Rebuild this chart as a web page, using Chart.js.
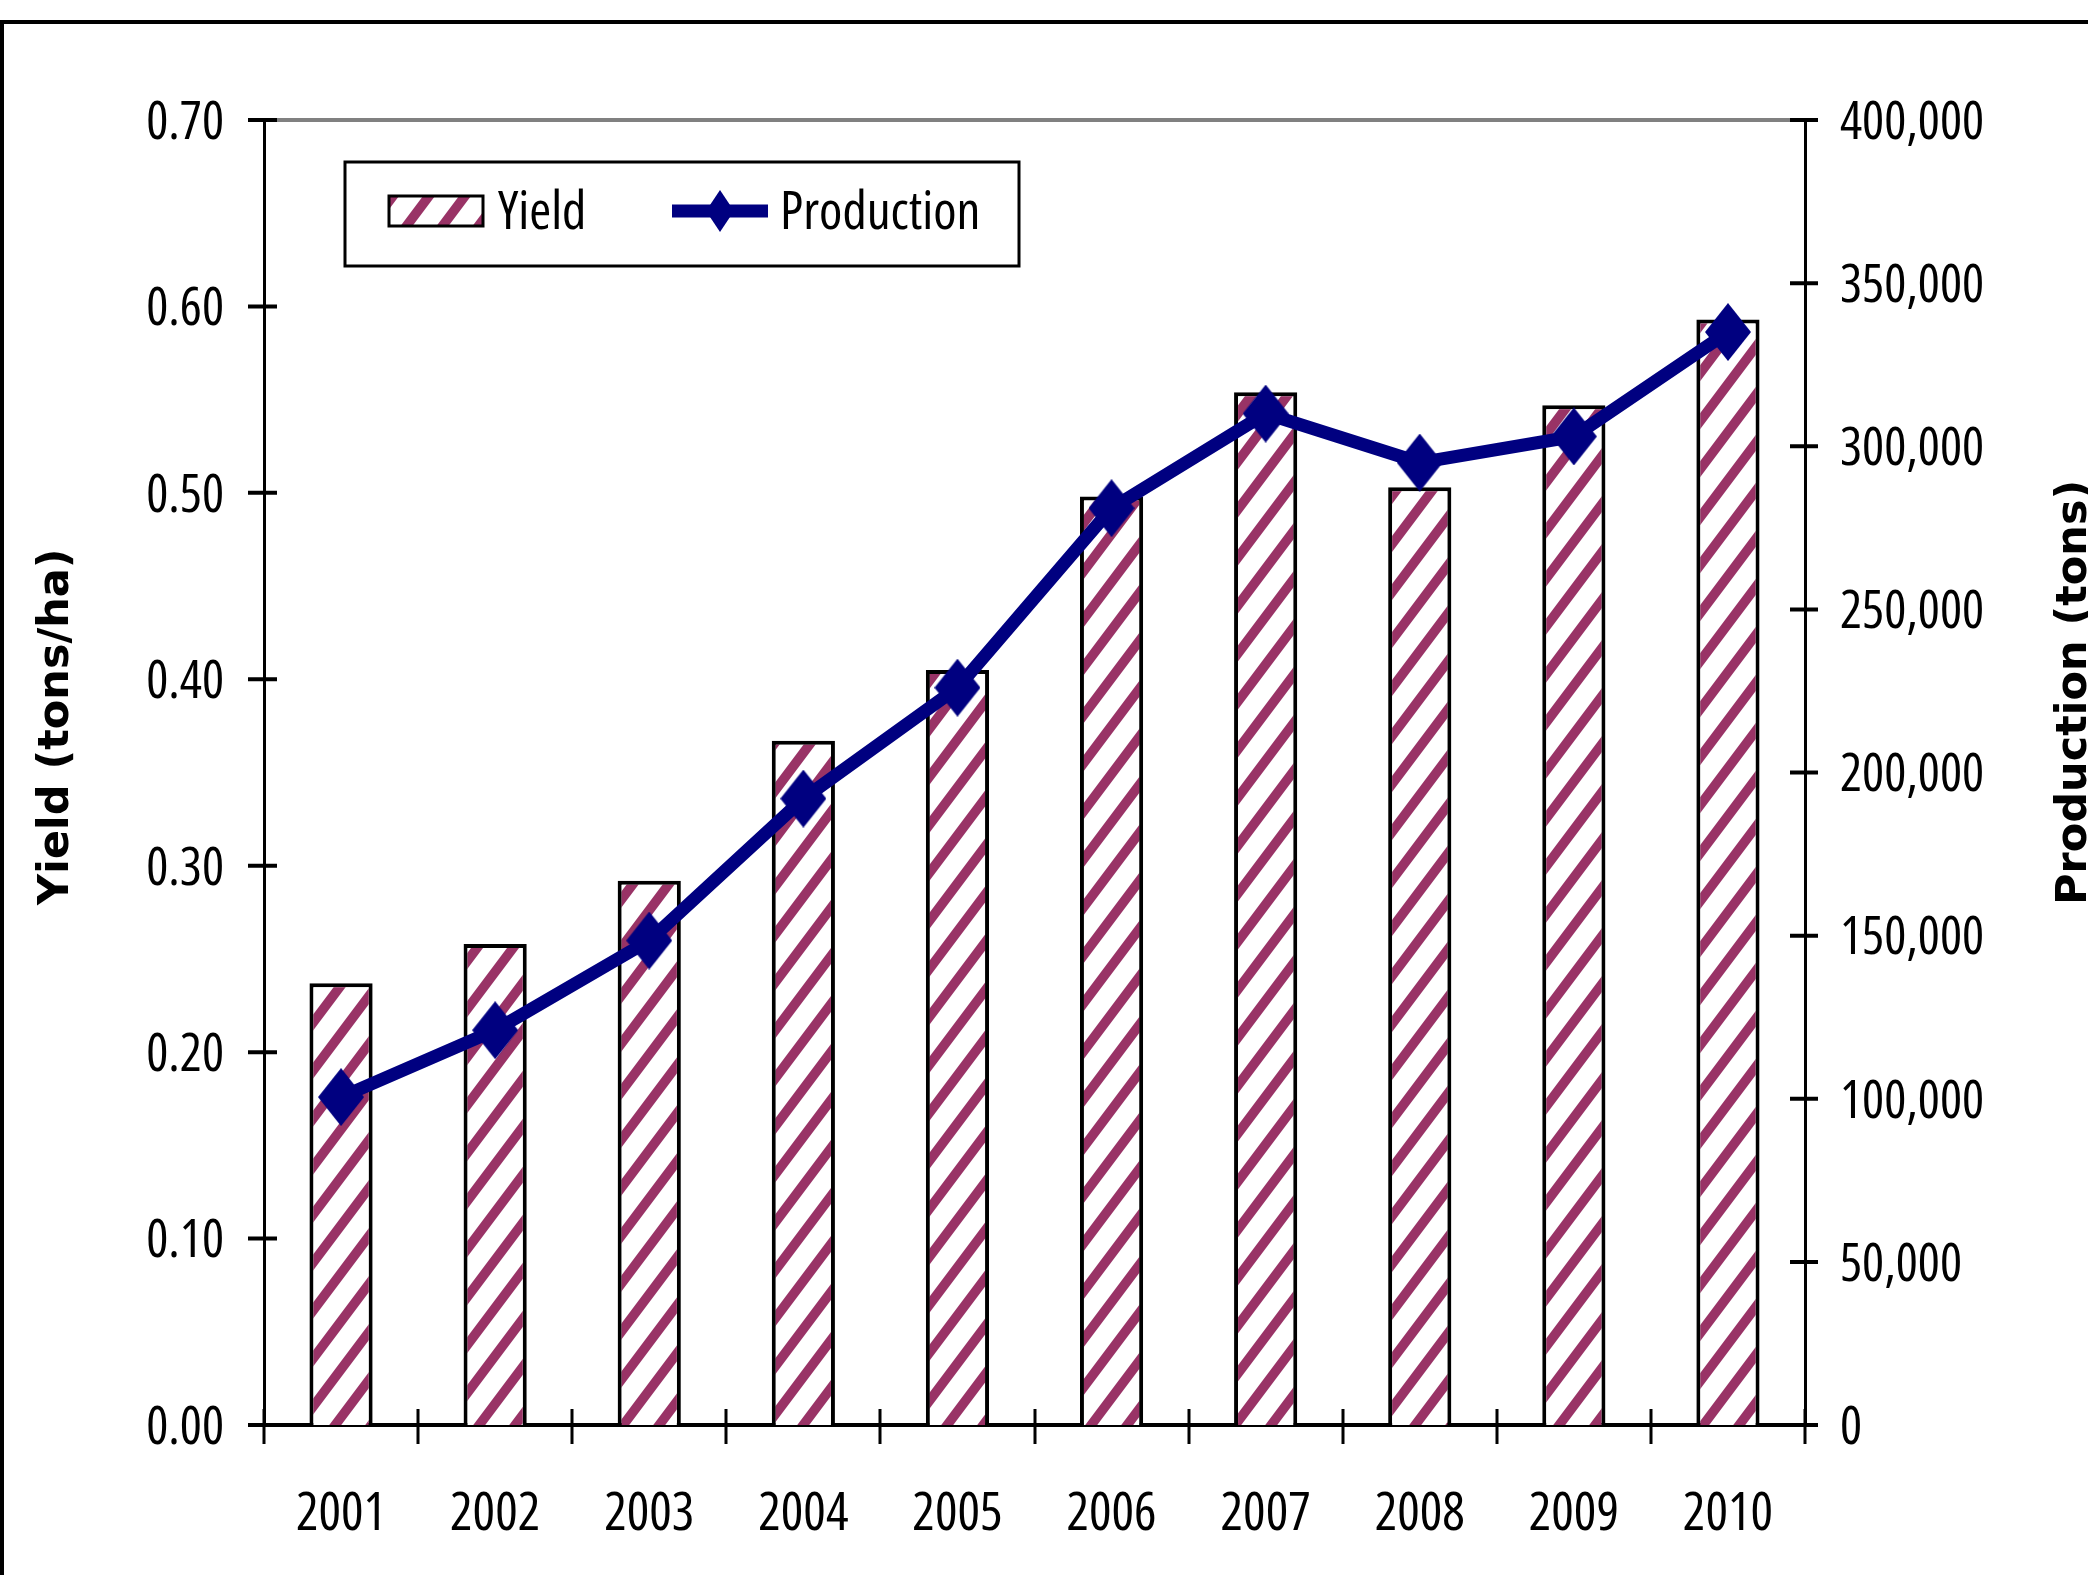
<!DOCTYPE html>
<html>
<head>
<meta charset="utf-8">
<script src="https://cdn.jsdelivr.net/npm/chart.js@4"></script>
<style>
html, body { margin: 0; padding: 0; background: #fff; }
canvas { display: block; }
</style>
</head>
<body>
<canvas id="chart" width="2088" height="1575" style="width:2088px;height:1575px"></canvas>
<script>
const years = ['2001', '2002', '2003', '2004', '2005', '2006', '2007', '2008', '2009', '2010'];
const yieldValues = [0.237, 0.258, 0.292, 0.367, 0.405, 0.498, 0.554, 0.503, 0.547, 0.593];
const productionValues = [100500, 121000, 148500, 192000, 226000, 281000, 310000, 295000, 303000, 335000];
const yieldTicks = [0, 0.1, 0.2, 0.3, 0.4, 0.5, 0.6, 0.7];
const productionTicks = [0, 50000, 100000, 150000, 200000, 250000, 300000, 350000, 400000];

const labelFont = '"Open Sans", sans-serif';
const titleFont = '"DejaVu Sans", Verdana, sans-serif';
const maroon = '#993366';
const navy = '#000080';

function makeHatch(){
    let w = 36, h = 48;
    let c = document.createElement('canvas');
    c.width = w; c.height = h;
    let g = c.getContext('2d');
    g.fillStyle = '#fff';
    g.fillRect(0, 0, w, h);
    g.strokeStyle = maroon;
    g.lineWidth = 9.6;
    for (let k = 0; k <= 2; k++) {
        g.beginPath();
        g.moveTo((k + 1) * w, -h);
        g.lineTo((k - 2) * w, 2 * h);
        g.stroke();
    }
    return document.getElementById('chart').getContext('2d').createPattern(c, 'repeat');
}

function makeDiamond(w, h){
    let c = document.createElement('canvas');
    c.width = w; c.height = h;
    let g = c.getContext('2d');
    g.fillStyle = navy;
    g.beginPath();
    g.moveTo(w / 2, 0);
    g.lineTo(w, h / 2);
    g.lineTo(w / 2, h);
    g.lineTo(0, h / 2);
    g.closePath();
    g.fill();
    return c;
}

const hatch = makeHatch();
const diamond = makeDiamond(46, 58);
const legendDiamond = makeDiamond(28, 42);

// outer frame, cross ticks, titles and the boxed legend
const decor = {
    id: 'decor',
    beforeDatasetsDraw(chart){
        let ctx = chart.ctx, a = chart.chartArea;
        ctx.save();
        ctx.strokeStyle = '#808080';
        ctx.lineWidth = 4;
        ctx.beginPath();
        ctx.moveTo(a.left, a.top);
        ctx.lineTo(a.right, a.top);
        ctx.stroke();
        ctx.restore();
    },
    afterDraw(chart){
        let ctx = chart.ctx, a = chart.chartArea;
        let s = chart.scales;
        ctx.save();
        ctx.strokeStyle = '#000';
        ctx.lineWidth = 4;
        ctx.strokeRect(2, 22, 2300, 2000);

        ctx.lineWidth = 4;
        ctx.beginPath();
        s.y.ticks.forEach(t => {
            let y = s.y.getPixelForValue(t.value);
            ctx.moveTo(a.left - 16, y); ctx.lineTo(a.left + 13, y);
        });
        s.y1.ticks.forEach(t => {
            let y = s.y1.getPixelForValue(t.value);
            ctx.moveTo(a.right - 15, y); ctx.lineTo(a.right + 13, y);
        });
        ctx.stroke();
        ctx.lineWidth = 3;
        ctx.beginPath();
        let n = years.length, step = (a.right - a.left) / n;
        for (let i = 0; i <= n; i++) {
            let x = Math.round(a.left + i * step);
            ctx.moveTo(x, a.bottom - 16); ctx.lineTo(x, a.bottom + 19);
        }
        ctx.stroke();

        // axis titles
        ctx.fillStyle = '#000';
        ctx.font = 'bold 43px ' + titleFont;
        ctx.textAlign = 'left';
        ctx.textBaseline = 'alphabetic';
        ctx.save();
        ctx.translate(68, 905);
        ctx.rotate(-Math.PI / 2);
        ctx.fillText('Yield (tons/ha)', 0, 0);
        ctx.restore();
        ctx.save();
        ctx.translate(2086, 905);
        ctx.rotate(-Math.PI / 2);
        ctx.fillText('Production (tons)', 0, 0);
        ctx.restore();

        // legend
        let ds = chart.data.datasets;
        ctx.strokeStyle = '#000';
        ctx.lineWidth = 3;
        ctx.strokeRect(345, 162, 674, 104);
        ctx.fillStyle = hatch;
        ctx.fillRect(389, 196, 94, 30);
        ctx.strokeRect(389, 196, 94, 30);
        ctx.strokeStyle = navy;
        ctx.lineWidth = 13;
        ctx.beginPath();
        ctx.moveTo(672, 211); ctx.lineTo(768, 211);
        ctx.stroke();
        ctx.drawImage(legendDiamond, 720 - 14, 211 - 21);
        ctx.fillStyle = '#000';
        ctx.font = 'condensed 53px ' + labelFont;
        ctx.textBaseline = 'middle';
        ctx.fillText(ds[1].label, 498, 214);
        ctx.fillText(ds[0].label, 780, 214);
        ctx.restore();
    }
};

const tickFont = { family: labelFont, weight: 'condensed', size: 52 };

const data = {
    labels: years,
    datasets: [{
        type: 'line',
        label: 'Production',
        data: productionValues,
        yAxisID: 'y1',
        borderColor: navy,
        borderWidth: 13,
        pointStyle: diamond,
        tension: 0,
        order: 0
    }, {
        type: 'bar',
        label: 'Yield',
        data: yieldValues,
        yAxisID: 'y',
        backgroundColor: hatch,
        borderColor: '#000',
        borderWidth: 4,
        categoryPercentage: 1,
        barPercentage: 0.41,
        order: 1
    }]
};

const config = {
    data: data,
    options: {
        responsive: false,
        animation: false,
        devicePixelRatio: 1,
        layout: { padding: { top: 120, left: 0, right: 0, bottom: 0 } },
        plugins: { legend: { display: false }, tooltip: { enabled: false } },
        scales: {
            x: {
                grid: { display: false, drawTicks: false },
                border: { color: '#000', width: 4 },
                ticks: { color: '#000', font: { family: labelFont, weight: 'condensed', size: 53 },
                    padding: 58, maxRotation: 0 },
                afterFit: s => { s.height = 150; }
            },
            y: {
                position: 'left',
                min: 0, max: 0.7,
                grid: { display: false, drawTicks: false },
                border: { color: '#000', width: 3 },
                afterBuildTicks: s => { s.ticks = yieldTicks.map(v => ({ value: v })); },
                ticks: { color: '#000', font: tickFont, padding: 40, labelOffset: 4,
                    callback: v => v.toFixed(2) },
                afterFit: s => { s.width = 264; }
            },
            y1: {
                position: 'right',
                min: 0, max: 400000,
                grid: { display: false, drawTicks: false },
                border: { color: '#000', width: 3 },
                afterBuildTicks: s => { s.ticks = productionTicks.map(v => ({ value: v })); },
                ticks: { color: '#000', font: tickFont, padding: 35, labelOffset: 4,
                    callback: v => v.toLocaleString('en-US') },
                afterFit: s => { s.width = 283; }
            }
        }
    },
    plugins: [decor]
};

let ctx = document.getElementById('chart').getContext('2d');
new Chart(ctx, config);
</script>
</body>
</html>
